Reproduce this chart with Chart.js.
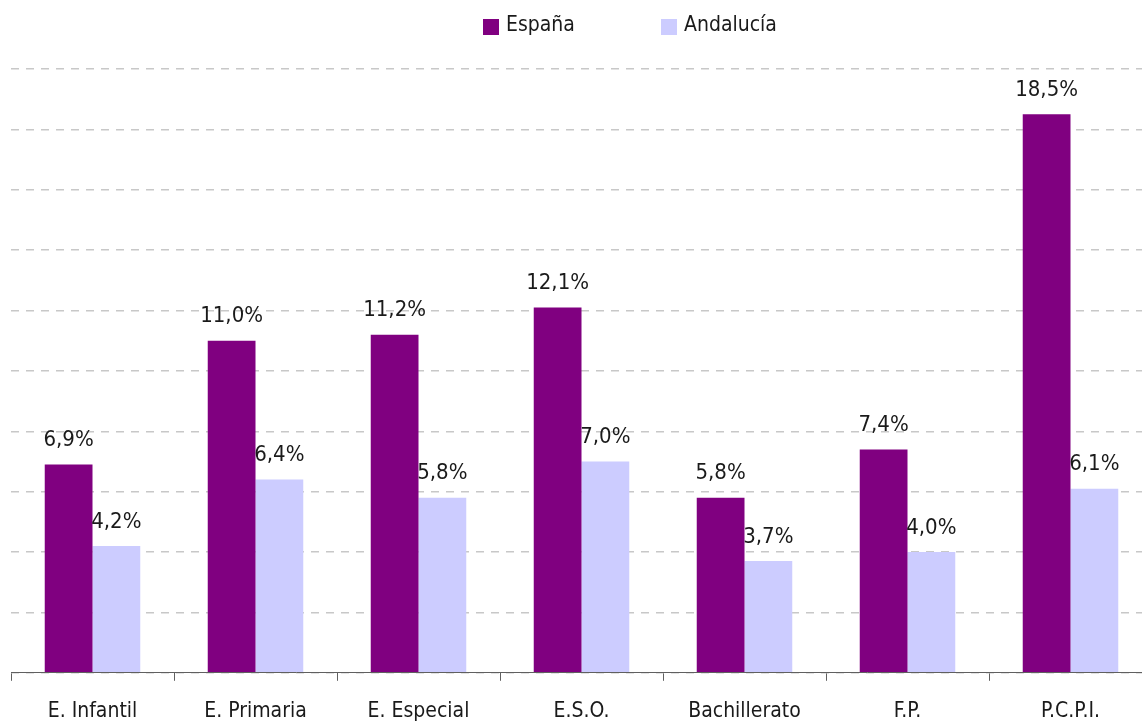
<!DOCTYPE html>
<html>
<head>
<meta charset="utf-8">
<script src="https://cdn.jsdelivr.net/npm/chart.js@4"></script>
<style>
    html, body { margin: 0; padding: 0; background: #fff; overflow: hidden; }
    #wrap { width: 1153px; height: 723px; position: relative; }
</style>
</head>
<body>
<div id="wrap"><canvas id="chart"></canvas></div>
<script>
const categories = ["E. Infantil", "E. Primaria", "E. Especial", "E.S.O.", "Bachillerato", "F.P.", "P.C.P.I."];
const espana = [6.9, 11.0, 11.2, 12.1, 5.8, 7.4, 18.5];
const andalucia = [4.2, 6.4, 5.8, 7.0, 3.7, 4.0, 6.1];
const seriesNames = ["España", "Andalucía"];
const yTicks = [0, 2, 4, 6, 8, 10, 12, 14, 16, 18, 20];

const FONT = "'Liberation Sans Narrow', 'Arial Narrow', 'DejaVu Sans Condensed', sans-serif";

const fmt = v => v.toFixed(1).replace(".", ",") + "%";

// value labels above the bars
const valueLabels = {
    id: "valueLabels",
    afterDatasetsDraw(chart) {
        const ctx = chart.ctx;
        ctx.save();
        ctx.font = "22px " + FONT;
        ctx.fillStyle = "#1a1a1a";
        ctx.textAlign = "center";
        ctx.textBaseline = "bottom";
        chart.data.datasets.forEach((ds, i) => {
            chart.getDatasetMeta(i).data.forEach((bar, j) => {
                ctx.fillText(fmt(ds.data[j]), bar.x, bar.y - 13);
            });
        });
        ctx.restore();
    }
};

// simple legend at the top
const topLegend = {
    id: "topLegend",
    afterDraw(chart) {
        const ctx = chart.ctx;
        const starts = [483, 661];
        ctx.save();
        ctx.font = "21px " + FONT;
        ctx.textBaseline = "middle";
        ctx.textAlign = "left";
        chart.data.datasets.forEach((ds, i) => {
            ctx.fillStyle = ds.backgroundColor;
            ctx.fillRect(starts[i], 19, 16, 16);
            ctx.fillStyle = "#1a1a1a";
            ctx.fillText(ds.label, starts[i] + 23, 26);
        });
        ctx.restore();
    }
};

new Chart(document.getElementById("chart").getContext("2d"), {
    type: "bar",
    data: {
        labels: categories,
        datasets: [
            { label: seriesNames[0], data: espana, backgroundColor: "#800080" },
            { label: seriesNames[1], data: andalucia, backgroundColor: "#ccccff" }
        ]
    },
    options: {
        responsive: true,
        maintainAspectRatio: false,
        animation: false,
        categoryPercentage: 0.586,
        barPercentage: 1,
        layout: { padding: { top: 69, left: 11, right: 1, bottom: -19 } },
        plugins: {
            legend: { display: false },
            tooltip: { enabled: false }
        },
        scales: {
            x: {
                grid: { drawOnChartArea: false, drawTicks: true, tickLength: 8, color: "#606060" },
                border: { display: true, color: "#606060" },
                ticks: { color: "#1a1a1a", padding: 18, font: { family: FONT, size: 21 } }
            },
            y: {
                min: 0,
                max: 20,
                afterBuildTicks: axis => { axis.ticks = yTicks.map(v => ({ value: v })); },
                ticks: { display: false },
                grid: { drawTicks: false, color: "#c8c8c8", lineWidth: 1.5 },
                border: { display: false, dash: [8, 7] }
            }
        }
    },
    plugins: [valueLabels, topLegend]
});
</script>
</body>
</html>
